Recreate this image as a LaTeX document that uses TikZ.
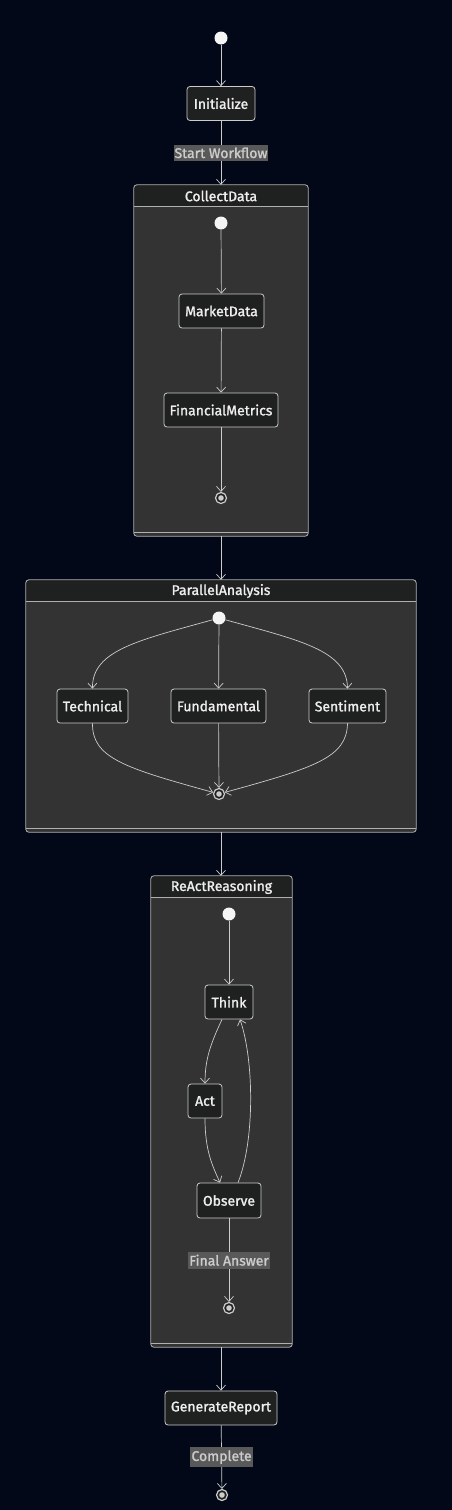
\documentclass[tikz,border=0pt]{standalone}
\usepackage{fontspec}
\newfontfamily\dfont{Fira Sans}[FakeBold=1.4]
\usetikzlibrary{arrows.meta}
\definecolor{bg}{HTML}{020817}
\definecolor{nodefill}{HTML}{1F2020}
\definecolor{clusterfill}{HTML}{333333}
\definecolor{linec}{HTML}{CCCCCC}
\definecolor{borderc}{HTML}{B0B0B0}
\definecolor{labelbg}{HTML}{595959}
\definecolor{txt}{HTML}{EEEEEE}
\begin{document}
\begin{tikzpicture}[x=1pt,y=-1pt,
  statebox/.style={draw=linec, fill=nodefill, rounded corners=3pt, line width=0.8pt, text=txt,
    font=\dfont\fontsize{14}{16}\selectfont, minimum height=34pt, inner xsep=2pt, inner ysep=0pt},
  startdot/.style={circle, fill=white!92!gray, minimum size=13pt, inner sep=0pt},
  enddot/.style={circle, draw=linec, line width=1.2pt, fill=nodefill, minimum size=11pt, inner sep=0pt,
    path picture={\fill[linec] (path picture bounding box.center) circle (2.8pt);}},
  edgelbl/.style={fill=labelbg, text=linec, font=\dfont\fontsize{14}{16}\selectfont, inner xsep=1pt, inner ysep=3pt},
  conn/.style={draw=linec, line width=0.7pt, -{Straight Barb[length=5pt,width=9pt]}},
  cluster/.style={fill=clusterfill, rounded corners=3pt, inner sep=0pt},
  clborder/.style={draw=borderc, line width=0.8pt, rounded corners=3pt},
  clline/.style={draw=borderc, line width=0.8pt},
  cltitle/.style={text=txt, font=\dfont\fontsize{14}{16}\selectfont, inner sep=0pt},
]
\fill[bg] (0,0) rectangle (452,1510);
\useasboundingbox (0,0) rectangle (452,1510);

% clusters
\node[cluster, minimum width=174pt, minimum height=351pt] (cd) at (221,360.5) {};
\node[cluster, minimum width=390pt, minimum height=252pt] (pa) at (221,706) {};
\node[cluster, minimum width=141pt, minimum height=471pt] (rr) at (221.5,1111.5) {};
\foreach \c in {cd,pa,rr}{
  \begin{scope}
    \clip[rounded corners=3pt] (\c.north west) rectangle (\c.south east);
    \fill[nodefill] (\c.north west) rectangle ([yshift=-22pt]\c.north east);
  \end{scope}
  \draw[clline] ([yshift=-22pt]\c.north west) -- ([yshift=-22pt]\c.north east);
  \draw[clline] ([yshift=4pt]\c.south west) -- ([yshift=4pt]\c.south east);
  \draw[clborder] (\c.north west) rectangle (\c.south east);
}
\node[cltitle] (cdt) at (221,196) {CollectData};
\node[cltitle] (pat) at (221,591) {ParallelAnalysis};
\node[cltitle] (rrt) at (221.5,887) {ReActReasoning};

% top level
\node[startdot] (s0) at (221,38) {};
\node[statebox, minimum width=68pt] (init) at (221,103.5) {Initialize};
\node[statebox, minimum width=112pt] (gen) at (221,1408) {GenerateReport};
\node[enddot] (e0) at (222,1495) {};

% CollectData
\node[startdot] (cs) at (221,223) {};
\node[statebox, minimum width=85pt] (md) at (221.5,311) {MarketData};
\node[statebox, minimum width=114pt] (fm) at (221,410) {FinancialMetrics};
\node[enddot] (ce) at (221,498) {};

% ParallelAnalysis
\node[startdot] (ps) at (219,618) {};
\node[statebox, minimum width=71pt] (tech) at (92.5,706) {Technical};
\node[statebox, minimum width=95pt] (fund) at (218.5,706) {Fundamental};
\node[statebox, minimum width=77pt] (sent) at (347.5,706) {Sentiment};
\node[enddot] (pe) at (219,794) {};

% ReActReasoning
\node[startdot] (rs) at (229,914) {};
\node[statebox, minimum width=48pt] (think) at (229,1002) {Think};
\node[statebox, minimum width=34pt] (act) at (205,1101) {Act};
\node[statebox, minimum width=64pt, minimum height=35pt] (obs) at (229,1200.5) {Observe};
\node[enddot] (re) at (229,1308) {};

% connectors
\draw[conn] (s0) -- (init);
\draw[conn] (init) -- node[edgelbl] {Start Workflow} (cd.north);
\draw[conn] (cs) -- (md);
\draw[conn] (md) -- (fm);
\draw[conn] (fm) -- (ce);
\draw[conn] (cd.south) -- (pa.north);
\draw[conn] (ps) .. controls (140,640) and (92,650) .. (tech.north);
\draw[conn] (ps) -- (fund);
\draw[conn] (ps) .. controls (298,640) and (347,650) .. (sent.north);
\draw[conn] (tech.south) .. controls (92,758) and (125,768) .. (pe);
\draw[conn] (fund) -- (pe);
\draw[conn] (sent.south) .. controls (347,758) and (313,768) .. (pe);
\draw[conn] (pa.south) -- (rr.north -| pa.south);
\draw[conn] (rs) -- (think);
\draw[conn] ([xshift=-7pt]think.south) .. controls (210,1045) and (205,1060) .. (act.north);
\draw[conn] (act.south) .. controls (205,1150) and (212,1165) .. ([xshift=-9pt]obs.north);
\draw[conn] ([xshift=9pt]obs.north) .. controls (255,1140) and (254,1060) .. ([xshift=11pt]think.south);
\draw[conn] (obs) -- node[edgelbl] {Final Answer} (re);
\draw[conn] (rr.south -| gen.north) -- (gen);
\draw[conn] (gen) -- node[edgelbl] {Complete} (e0);
\end{tikzpicture}
\end{document}
